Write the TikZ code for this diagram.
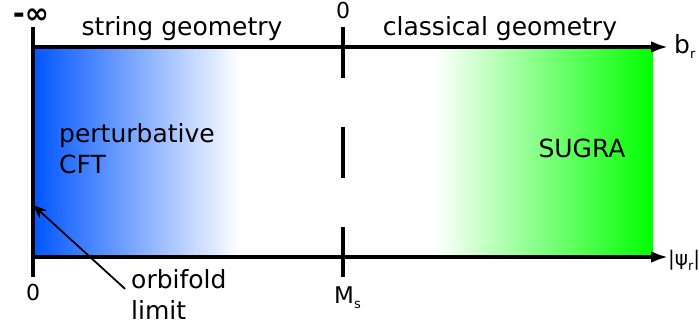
\documentclass[tikz,border=0pt]{standalone}
\usepackage{fontspec}
\setmainfont{DejaVu Sans}
\usetikzlibrary{arrows.meta, positioning, calc}
\definecolor{stringblue}{RGB}{0,85,255}
\definecolor{sugragreen}{RGB}{0,255,0}
\newcommand{\lowsub}[1]{\raisebox{-5pt}{\fontsize{13}{13}\selectfont #1}}

\begin{document}
\begin{tikzpicture}[x=1pt, y=-1pt,
    axis/.style={line width=3.4pt, -{Latex[length=17pt, width=12pt]}},
    tick/.style={line width=3.4pt},
    pointer/.style={line width=1.8pt, -{Stealth[length=14pt, width=11pt]}},
    lbl/.style={inner sep=0pt, font=\fontsize{25}{31}\selectfont},
    small/.style={inner sep=0pt, font=\fontsize{22}{24}\selectfont}
  ]
  \useasboundingbox (0,0) rectangle (699,329);
  % regions
  \shade[left color=stringblue, right color=white] (33,47) rectangle (240,257);
  \shade[left color=white, right color=sugragreen] (435,47) rectangle (653,257);
  % axes
  \coordinate (tl) at (33,47);
  \coordinate (bl) at (33,257);
  \coordinate (tr) at (668,47);
  \coordinate (br) at (668,257);
  \coordinate (lt) at (33,27);
  \coordinate (lb) at (33,277);
  \coordinate (mt) at (343,27);
  \coordinate (mb) at (343,277);
  \draw[tick] (lt) -- (lb);
  \draw[tick, dash pattern=on 51pt off 49pt] (mt) -- (mb);
  \draw[axis] (tl) -- (tr);
  \draw[axis] (bl) -- (br);
  % labels
  \node[inner sep=0pt, font=\bfseries\fontsize{29}{30}\selectfont, anchor=base] (minf) at (31,24) {-∞};
  \node[small, anchor=base] (zerotop) at (343,19) {0};
  \node[small, anchor=base] (zerobot) at (33,300) {0};
  \node[small, font=\fontsize{23}{24}\selectfont, anchor=base west] (ms) at (334,303) {M\lowsub{s}};
  \node[lbl, anchor=base] (string) at (182,36) {string geometry};
  \node[lbl, anchor=base] (classical) at (500,36) {classical geometry};
  \node[lbl, font=\fontsize{25}{25}\selectfont, anchor=base west] (bvar) at (674,54) {b\lowsub{r}};
  \node[lbl, font=\fontsize{20}{20}\selectfont, anchor=base west] (psivar) at (668,265) {|ψ\lowsub{r}|};
  \node[lbl, align=left, anchor=base west] (pert) at (59,173) {perturbative\\CFT};
  \node[lbl, anchor=base] (sugra) at (582,157) {SUGRA};
  \node[lbl, align=left, anchor=base west] (orb) at (131,319) {orbifold\\limit};
  % orbifold pointer
  \coordinate (orbtip) at (33,205);
  \draw[pointer] ($(orb.north west)+(-6,20)$) -- (orbtip);
\end{tikzpicture}
\end{document}
